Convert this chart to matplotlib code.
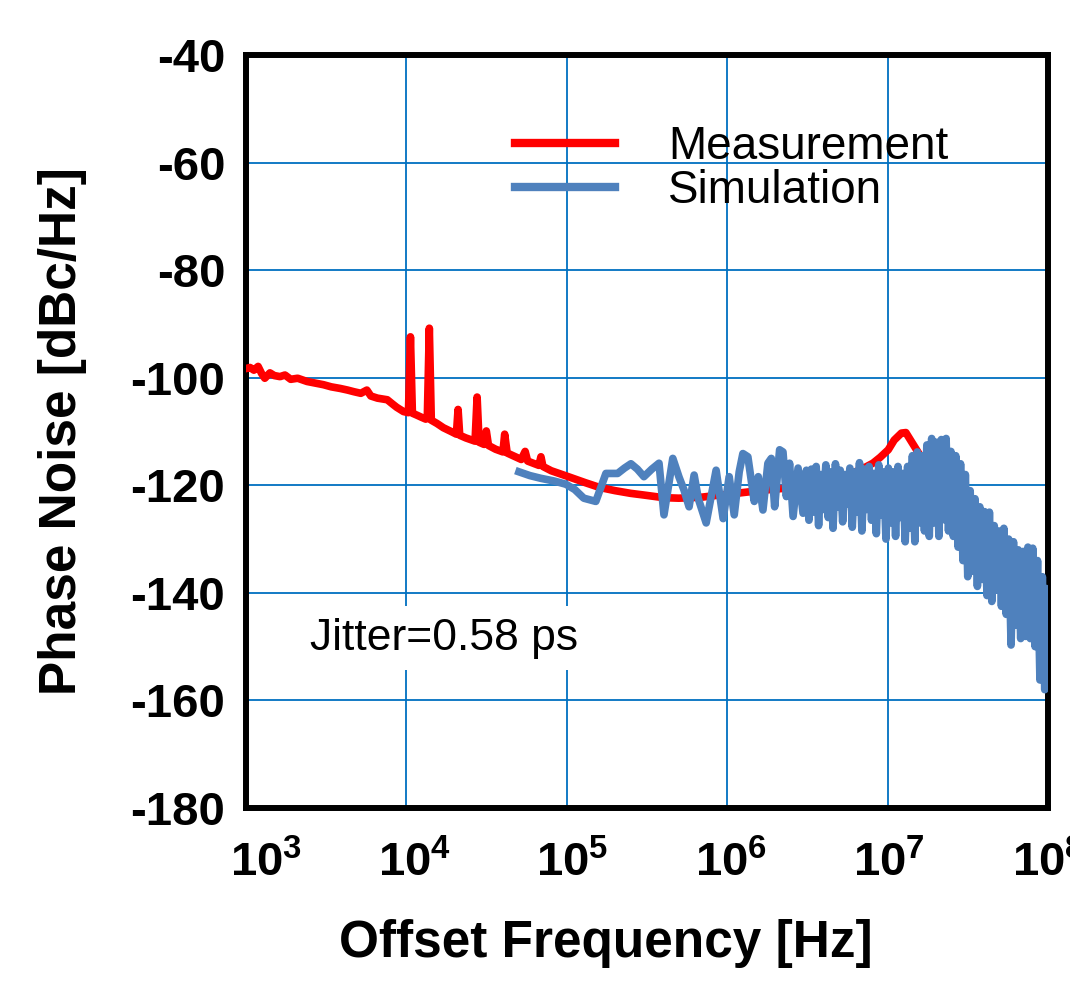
import matplotlib
matplotlib.use('Agg')
import matplotlib.pyplot as plt
import matplotlib.transforms as mtransforms
import numpy as np
from matplotlib.ticker import FixedLocator, NullLocator

# ---------------- data ----------------
meas_f = [1000, 1060, 1120, 1190, 1250, 1310, 1410, 1500, 1630, 1750, 1900, 2100,
          2400, 2700, 3040, 3400, 3870, 4300, 4700, 5200, 5670, 6000, 6600, 7600,
          8200, 8700, 9600, 10300, 10600, 10900, 11500, 12300, 13200, 13500, 13900,
          14300, 15500, 17000, 19000, 20500, 21000, 21500, 23500, 26800, 27600,
          28400, 30500, 31500, 32500, 36000, 40000, 41000, 42500, 47000, 52000,
          55000, 57000, 63000, 67000, 69000, 71000, 80000, 100000, 130000, 160000,
          200000, 250000, 300000, 400000, 500000, 600000, 700000, 850000, 1000000,
          1300000, 1700000, 2200000, 2900000, 3500000, 4300000, 5000000, 5960000,
          7000000, 8100000, 9000000, 10100000, 11000000, 12200000, 13000000,
          14100000, 15900000, 18000000, 20000000]
meas_db = [-98.3, -98.1, -98.6, -97.9, -99.2, -100.1, -99.1, -99.6, -99.8, -99.5,
           -100.3, -100.1, -100.7, -101.0, -101.3, -101.7, -102.0, -102.3, -102.6,
           -102.9, -102.3, -103.4, -103.8, -104.1, -104.9, -105.5, -106.3, -106.5,
           -92.4, -106.6, -106.9, -107.3, -107.7, -107.6, -90.8, -107.9, -108.5,
           -109.3, -110.0, -110.5, -105.9, -110.7, -111.2, -111.8, -103.6, -112.0,
           -112.4, -109.9, -112.6, -113.3, -113.8, -110.5, -114.0, -114.6, -115.2,
           -113.7, -115.5, -116.0, -116.3, -114.7, -116.5, -117.3, -118.3, -119.5,
           -120.4, -121.0, -121.5, -121.8, -122.3, -122.4, -122.3, -122.2, -121.9,
           -121.7, -121.3, -120.9, -120.6, -120.3, -119.7, -119.1, -118.6, -117.8,
           -116.9, -115.9, -114.8, -113.4, -111.6, -110.3, -110.2, -111.9, -114.4,
           -117.0, -118.5]

sim_log10f = [4.702, 4.77, 4.8375, 4.92, 4.994, 5.05, 5.106, 5.181, 5.244, 5.317,
              5.36, 5.40, 5.44, 5.481, 5.53, 5.575, 5.606, 5.661, 5.70, 5.731,
              5.7625, 5.794, 5.82, 5.869, 5.90, 5.931, 5.975, 6.0125, 6.044, 6.075,
              6.098, 6.129, 6.15, 6.169, 6.194, 6.223, 6.254, 6.275, 6.296, 6.327,
              6.348, 6.369, 6.389, 6.411, 6.442, 6.473, 6.494,
              6.51, 6.525, 6.54, 6.555, 6.57, 6.585, 6.60, 6.615, 6.63, 6.645,
              6.66, 6.675, 6.69, 6.705, 6.72, 6.735, 6.75, 6.765, 6.78, 6.795,
              6.81, 6.825, 6.84, 6.855, 6.87, 6.885, 6.90, 6.915, 6.93, 6.945,
              6.96, 6.975, 6.99, 7.005, 7.02, 7.035, 7.05, 7.065, 7.08, 7.095,
              7.11, 7.125, 7.14, 7.155, 7.17, 7.185, 7.20, 7.215, 7.23, 7.245,
              7.26, 7.275, 7.29, 7.305, 7.32, 7.335, 7.35, 7.365, 7.38, 7.395,
              7.41, 7.425, 7.44, 7.455, 7.47, 7.485, 7.50, 7.515, 7.53, 7.545,
              7.56, 7.575, 7.59, 7.605, 7.62, 7.635, 7.65, 7.665, 7.68, 7.695,
              7.71, 7.725, 7.74, 7.755, 7.77, 7.785, 7.80, 7.815, 7.83, 7.845,
              7.86, 7.875, 7.89, 7.905, 7.92, 7.935, 7.95, 7.965, 7.98, 7.99, 8.0]
sim_db = [-117.5, -118.2, -118.7, -119.2, -119.8, -120.8, -122.4, -123.0, -117.8, -117.8,
          -116.8, -116.0, -117.0, -118.4, -117.0, -115.9, -125.5, -115.0, -118.5, -120.9,
          -124.0, -118.1, -122.5, -127.0, -122.1, -117.2, -126.2, -118.4, -125.5, -117.5,
          -114.1, -114.7, -119.0, -123.0, -118.4, -124.6, -115.9, -115.0, -124.0, -113.4,
          -113.8, -122.1, -115.9, -125.8, -116.8, -125.2, -117.2,
          -126.5, -117.0, -125.0, -116.5, -127.5, -118.0, -124.5, -116.2, -126.0, -117.5,
          -128.0, -116.0, -124.0, -117.2, -126.8, -118.0, -123.5, -116.8, -127.8, -117.5,
          -125.0, -115.8, -128.5, -117.0, -124.5, -116.5, -126.5, -117.8, -129.0, -116.2,
          -125.5, -117.5, -130.0, -116.8, -127.0, -117.5, -129.5, -116.5, -126.0, -117.8,
          -130.5, -116.5, -128.0, -114.5, -130.5, -113.8, -127.0, -114.5, -128.5, -112.5,
          -129.5, -111.3, -127.0, -112.0, -129.5, -111.5, -126.4, -111.3, -128.5, -113.7,
          -129.5, -114.5, -131.5, -116.0, -134.0, -118.0, -137.0, -121.0, -136.0, -122.5,
          -138.8, -124.0, -137.5, -124.9, -140.5, -125.0, -141.6, -127.5, -139.5, -128.5,
          -142.5, -128.0, -144.0, -130.0, -149.7, -130.5, -146.0, -132.0, -148.5, -132.3,
          -148.1, -131.5, -148.5, -131.7, -150.0, -134.0, -156.2, -137.0, -158.0, -139.2, -157.0]

x_ticks = [1e3, 1e4, 1e5, 1e6, 1e7, 1e8]
x_exps = [3, 4, 5, 6, 7, 8]
y_ticks = [-180, -160, -140, -120, -100, -80, -60, -40]

# ---------------- style ----------------
plt.rcParams['font.family'] = ['Liberation Sans', 'DejaVu Sans']
plt.rcParams['axes.unicode_minus'] = False
plt.rcParams['mathtext.fontset'] = 'custom'
plt.rcParams['mathtext.rm'] = 'Liberation Sans:bold'
plt.rcParams['mathtext.bf'] = 'Liberation Sans:bold'
plt.rcParams['mathtext.it'] = 'Liberation Sans:bold'

fig = plt.figure(figsize=(10.7, 9.82), dpi=100)
ax = fig.add_axes([0.2299, 0.1772, 0.7495, 0.7668])

ax.plot(meas_f, meas_db, color='#FF0000', lw=5.5, label='Measurement', zorder=3,
        solid_joinstyle='round')
ax.plot(10 ** np.array(sim_log10f), sim_db, color='#4F81BD', lw=5.5,
        label='Simulation', zorder=4, solid_joinstyle='round')

ax.set_xscale('log')
ax.set_xlim(1e3, 1e8)
ax.set_ylim(-180, -40)

ax.xaxis.set_major_locator(FixedLocator(x_ticks))
ax.xaxis.set_minor_locator(NullLocator())
ax.set_xticklabels([r'$\mathbf{10^{%d}}$' % e for e in x_exps], fontsize=34)
ax.set_yticks(y_ticks)
ax.set_yticklabels([str(v) for v in y_ticks], fontsize=34, fontweight='bold')
ax.tick_params(axis='both', length=0)
ax.tick_params(axis='y', pad=15)
ax.tick_params(axis='x', pad=24)

# small horizontal shifts of the x tick labels as in the reference
label_shift_px = [20, 8, 5, 4, 1, 0]
for lab, dx in zip(ax.get_xticklabels(), label_shift_px):
    lab.set_transform(lab.get_transform() +
                      mtransforms.ScaledTranslation(dx / 100, 0, fig.dpi_scale_trans))

ax.grid(True, which='major', color='#0070C0', lw=1.3)
ax.set_axisbelow(True)
for s in ax.spines.values():
    s.set_linewidth(4.3)
    s.set_color('black')

ax.set_xlabel('Offset Frequency [Hz]', fontsize=37, fontweight='bold')
ax.xaxis.set_label_coords(0.449, -0.147)
ax.set_ylabel('Phase Noise [dBc/Hz]', fontsize=37, fontweight='bold')
ax.yaxis.set_label_coords(-0.198, 0.5)

leg = ax.legend(loc='upper left', bbox_to_anchor=(0.335, 0.907), frameon=False,
                fontsize=33, handlelength=2.2, handletextpad=1.15, labelspacing=0.0,
                borderpad=0, borderaxespad=0)
for ln in leg.get_lines():
    ln.set_linewidth(6)

ax.text(2512, -148.4, 'Jitter=0.58 ps', fontsize=32, ha='left', va='center',
        bbox=dict(facecolor='white', edgecolor='none', pad=8), zorder=5)

fig.savefig('out.png', dpi=100)
